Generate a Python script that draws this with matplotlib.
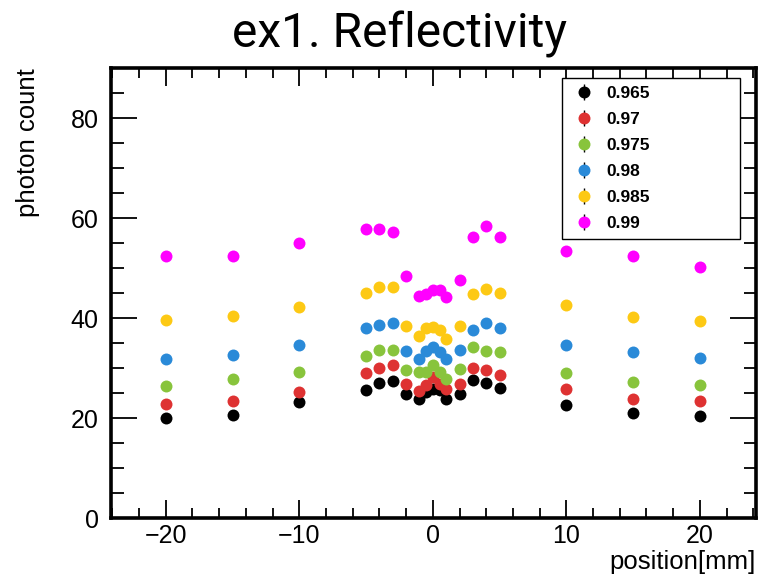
import numpy as np
import matplotlib
matplotlib.use("Agg")
import matplotlib.pyplot as plt
from matplotlib.lines import Line2D
from matplotlib.legend_handler import HandlerTuple
from matplotlib.ticker import MultipleLocator

pos = [-20, -15, -10, -5, -4, -3, -2, -1, -0.5, 0, 0.5, 1, 2, 3, 4, 5, 10, 15, 20]

r0965 = [20.1, 20.7, 23.2, 25.7, 27.1, 27.5, 24.8, 23.9, 25.3, 25.9, 25.6, 23.9, 24.8, 27.6, 27.1, 26.1, 22.7, 21.1, 20.4]
r097 = [22.9, 23.4, 25.3, 29.1, 30.1, 30.7, 26.9, 25.5, 26.6, 28.3, 26.9, 25.9, 26.9, 30.1, 29.7, 28.7, 25.9, 23.9, 23.5]
r0975 = [26.5, 27.9, 29.3, 32.5, 33.6, 33.7, 29.7, 29.3, 29.3, 30.7, 29.3, 27.8, 29.9, 34.3, 33.4, 33.3, 29.0, 27.3, 26.7]
r098 = [31.8, 32.7, 34.7, 38.1, 38.6, 39.1, 33.5, 31.8, 33.4, 34.3, 33.2, 31.8, 33.7, 37.6, 39.1, 38.1, 34.6, 33.2, 32.1]
r0985 = [39.6, 40.5, 42.3, 45.1, 46.2, 46.3, 38.4, 36.5, 38.1, 38.3, 37.7, 35.9, 38.5, 44.8, 45.9, 45.1, 42.7, 40.2, 39.5]
r099 = [52.4, 52.5, 55.1, 57.8, 57.9, 57.2, 48.5, 44.4, 44.9, 45.7, 45.7, 44.3, 47.7, 56.2, 58.4, 56.3, 53.5, 52.5, 50.3]

labels = ["0.965", "0.97", "0.975", "0.98", "0.985", "0.99"]
series = [r0965, r097, r0975, r098, r0985, r099]
colors = ["black", "#de3232", "#88c43c", "#2a8ad8", "#fdc914", "#ff00ff"]

fig = plt.figure(figsize=(7.6, 5.77), dpi=100)
ax = fig.add_axes([111/760, 59/577, 645/760, 450/577])

handles = []
for y, c in zip(series, colors):
    ax.plot(pos, y, "o", color=c, markersize=8.6, markeredgewidth=0)
    # legend entry: dot with a short vertical error bar through it
    bar = Line2D([], [], marker="|", color="black", markersize=11, markeredgewidth=1.0, linestyle="none")
    dot = Line2D([], [], marker="o", color=c, markersize=8.6, markeredgewidth=0, linestyle="none")
    handles.append((bar, dot))

ax.set_xlim(-24.1, 24.2)
ax.set_ylim(0, 90)

ax.xaxis.set_major_locator(MultipleLocator(10))
ax.xaxis.set_minor_locator(MultipleLocator(2))
ax.yaxis.set_major_locator(MultipleLocator(20))
ax.yaxis.set_minor_locator(MultipleLocator(5))
ax.tick_params(which="both", direction="in", top=True, right=True, width=1.3,
               labelsize=18, pad=9, labelfontfamily="Liberation Sans")
ax.tick_params(axis="x", which="both", pad=4)
ax.tick_params(axis="x", which="major", length=13)
ax.tick_params(axis="x", which="minor", length=7)
ax.tick_params(axis="y", which="major", length=19)
ax.tick_params(axis="y", which="minor", length=9)
for s in ax.spines.values():
    s.set_linewidth(2.6)

ax.set_xlabel("position[mm]", fontsize=18.5, family="Liberation Sans", ha="right")
ax.xaxis.set_label_coords(1.0, -0.07)
ax.set_ylabel("photon count", fontsize=18.5, family="Liberation Sans", loc="top", labelpad=22)

leg = ax.legend(handles, labels, handler_map={tuple: HandlerTuple(ndivide=1)},
                loc="upper left", bbox_to_anchor=(0.699, 0.5, 0.276, 0.478), mode="expand",
                borderaxespad=0, fancybox=False, framealpha=1, edgecolor="black",
                prop={"family": "Liberation Sans", "weight": "bold", "size": 12.5},
                handlelength=1.7, handletextpad=0.4, labelspacing=0.63,
                borderpad=0.45)
leg.get_frame().set_linewidth(1.0)

fig.text(400/760, 1 - 47/577, "ex1. Reflectivity", ha="center", va="baseline",
         fontsize=34.5, family="Roboto")

fig.savefig("out.png", dpi=100)
